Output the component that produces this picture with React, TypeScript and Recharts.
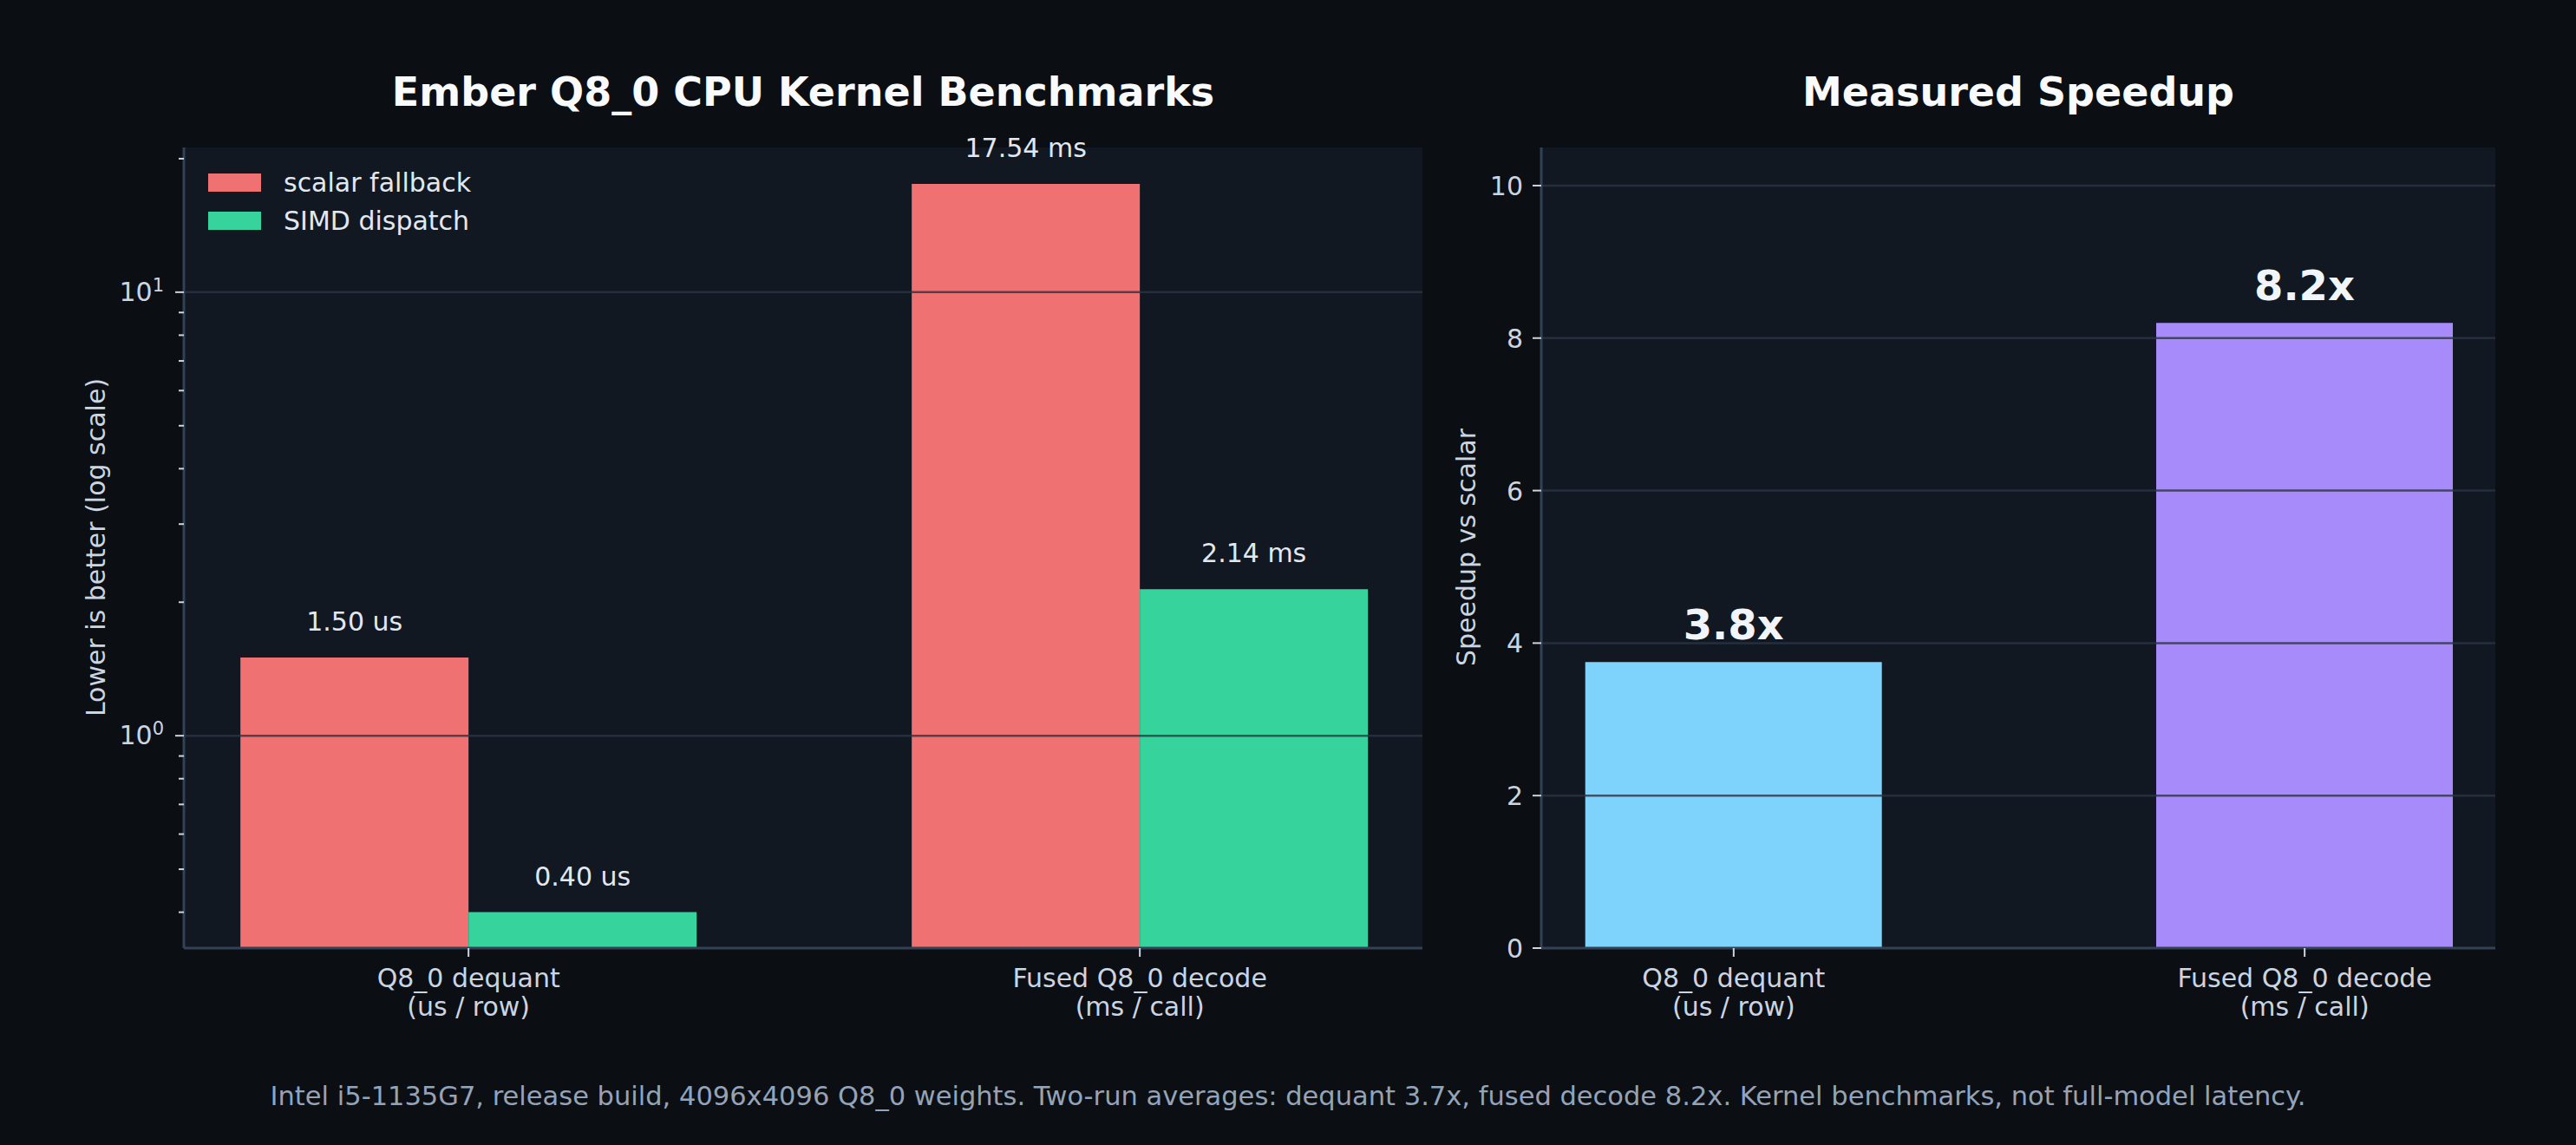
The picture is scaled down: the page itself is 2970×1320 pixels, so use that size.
import { Bar, BarChart, CartesianGrid, Cell, LabelList, ReferenceLine, XAxis, YAxis } from 'recharts';

const categories = ['Q8_0 dequant', 'Fused Q8_0 decode'];
const categoryUnits = ['(us / row)', '(ms / call)'];
const valueUnits = ['us', 'ms'];
const scalarTimes = [1.5, 17.54];
const simdTimes = [0.4, 2.14];
const speedups = [3.75, 8.2];
const speedupColors = ['#7dd3fc', '#a78bfa'];

const logTicks = [0.4, 0.5, 0.6, 0.7, 0.8, 0.9, 1, 2, 3, 4, 5, 6, 7, 8, 9, 10, 20];
const logMajors = [1, 10];
const speedupTicks = [0, 2, 4, 6, 8, 10];
const speedupGrid = [2, 4, 6, 8, 10];

const FONT = '"DejaVu Sans", sans-serif';
const PAGE_BG = '#0b0e13';
const PLOT_BG = '#111822';
const SPINE = '#334155';
const GRID = '#2b3545';
const TICK = '#cbd5e1';
const LABEL = '#e2e8f0';

const timingData = categories.map((name, i) => ({
  pos: i,
  name,
  scalar: scalarTimes[i],
  simd: simdTimes[i],
}));

const speedupData = categories.map((name, i) => ({ pos: i, name, speedup: speedups[i] }));

function LogTick({ x, y, payload }: any) {
  const v = payload.value as number;
  const major = logMajors.includes(v);
  return (
    <g>
      <line x1={x - (major ? 10 : 6)} x2={x} y1={y} y2={y} stroke={TICK} strokeWidth={2} />
      {major && (
        <text x={x - 23} y={y + 10} textAnchor="end" fill={TICK} fontSize={30} fontFamily={FONT}>
          10
          <tspan dy={-11} fontSize={21}>
            {Math.round(Math.log10(v))}
          </tspan>
        </text>
      )}
    </g>
  );
}

function LinearTick({ x, y, payload }: any) {
  return (
    <g>
      <line x1={x - 10} x2={x} y1={y} y2={y} stroke={TICK} strokeWidth={2} />
      <text x={x - 21} y={y + 11} textAnchor="end" fill={TICK} fontSize={30} fontFamily={FONT}>
        {payload.value}
      </text>
    </g>
  );
}

function CategoryTick({ x, y, payload }: any) {
  const i = payload.value as number;
  return (
    <g>
      <line x1={x} x2={x} y1={y} y2={y + 10} stroke={TICK} strokeWidth={2} />
      <text x={x} y={y + 45} textAnchor="middle" fill={TICK} fontSize={30} fontFamily={FONT}>
        <tspan x={x}>{categories[i]}</tspan>
        <tspan x={x} dy={33}>
          {categoryUnits[i]}
        </tspan>
      </text>
    </g>
  );
}

function timeLabel(props: any) {
  const box = props.viewBox ?? props;
  const { x, y, width } = box;
  return (
    <text x={x + width / 2} y={y - 31} textAnchor="middle" fill={LABEL} fontSize={30} fontFamily={FONT}>
      {`${Number(props.value).toFixed(2)} ${valueUnits[props.index]}`}
    </text>
  );
}

function speedupLabel(props: any) {
  const box = props.viewBox ?? props;
  const { x, y, width } = box;
  return (
    <text
      x={x + width / 2}
      y={y - 26}
      textAnchor="middle"
      fill="#f1f5f9"
      fontSize={48}
      fontWeight="bold"
      fontFamily={FONT}
    >
      {`${Number(props.value).toFixed(1)}x`}
    </text>
  );
}

const titleStyle: React.CSSProperties = {
  position: 'absolute',
  top: 106,
  transform: 'translate(-50%, -50%)',
  color: '#f8fafc',
  fontSize: 46,
  fontWeight: 'bold',
  whiteSpace: 'nowrap',
};

const yLabelStyle: React.CSSProperties = {
  position: 'absolute',
  top: 631,
  transform: 'translate(-50%, -50%) rotate(-90deg)',
  color: TICK,
  fontSize: 30,
  whiteSpace: 'nowrap',
};

export default function App() {
  return (
    <div
      style={{
        position: 'fixed',
        left: 0,
        top: 0,
        width: 2970,
        height: 1320,
        background: PAGE_BG,
        fontFamily: FONT,
        overflow: 'hidden',
      }}
    >
      <div style={{ position: 'absolute', left: 0, top: 0 }}>
        <BarChart
          width={1650}
          height={1320}
          data={timingData}
          margin={{ top: 170, right: 10, bottom: 127, left: 32 }}
          barGap={0}
        >
          <CartesianGrid fill={PLOT_BG} fillOpacity={1} horizontal={false} vertical={false} />
          <XAxis
            dataKey="pos"
            type="number"
            domain={[-0.424, 1.421]}
            allowDataOverflow
            ticks={[0, 1]}
            height={100}
            tickSize={0}
            tickMargin={0}
            tick={<CategoryTick />}
            axisLine={{ stroke: SPINE, strokeWidth: 3 }}
          />
          <YAxis
            type="number"
            scale="log"
            domain={[0.332, 21.2]}
            allowDataOverflow
            ticks={logTicks}
            interval={0}
            width={180}
            tickSize={0}
            tickMargin={0}
            tick={<LogTick />}
            axisLine={{ stroke: SPINE, strokeWidth: 3 }}
          />
          <Bar dataKey="scalar" name="scalar fallback" fill="#ef7171" barSize={263} isAnimationActive={false}>
            <LabelList dataKey="scalar" content={timeLabel} />
          </Bar>
          <Bar dataKey="simd" name="SIMD dispatch" fill="#36d49c" barSize={263} isAnimationActive={false}>
            <LabelList dataKey="simd" content={timeLabel} />
          </Bar>
          {logMajors.map((v) => (
            <ReferenceLine key={v} y={v} stroke={GRID} strokeOpacity={0.8} strokeWidth={2.5} />
          ))}
        </BarChart>
      </div>

      <div style={{ position: 'absolute', left: 1650, top: 0 }}>
        <BarChart
          width={1240}
          height={1320}
          data={speedupData}
          margin={{ top: 170, right: 13, bottom: 127, left: 27 }}
        >
          <CartesianGrid fill={PLOT_BG} fillOpacity={1} horizontal={false} vertical={false} />
          <XAxis
            dataKey="pos"
            type="number"
            domain={[-0.337, 1.334]}
            allowDataOverflow
            ticks={[0, 1]}
            height={100}
            tickSize={0}
            tickMargin={0}
            tick={<CategoryTick />}
            axisLine={{ stroke: SPINE, strokeWidth: 3 }}
          />
          <YAxis
            type="number"
            domain={[0, 10.5]}
            allowDataOverflow
            ticks={speedupTicks}
            interval={0}
            width={100}
            tickSize={0}
            tickMargin={0}
            tick={<LinearTick />}
            axisLine={{ stroke: SPINE, strokeWidth: 3 }}
          />
          <Bar dataKey="speedup" barSize={342} isAnimationActive={false}>
            {speedupData.map((d, i) => (
              <Cell key={d.name} fill={speedupColors[i]} />
            ))}
            <LabelList dataKey="speedup" content={speedupLabel} />
          </Bar>
          {speedupGrid.map((v) => (
            <ReferenceLine key={v} y={v} stroke={GRID} strokeOpacity={0.8} strokeWidth={2.5} />
          ))}
        </BarChart>
      </div>

      {/* legend for the timing panel */}
      <div style={{ position: 'absolute', left: 240, top: 188, color: LABEL, fontSize: 30 }}>
        {[
          ['scalar fallback', '#ef7171'],
          ['SIMD dispatch', '#36d49c'],
        ].map(([name, color]) => (
          <div key={name} style={{ display: 'flex', alignItems: 'center', height: 44 }}>
            <div style={{ width: 61, height: 21, background: color, marginRight: 26 }} />
            <span>{name}</span>
          </div>
        ))}
      </div>

      <div style={{ ...titleStyle, left: 926 }}>Ember Q8_0 CPU Kernel Benchmarks</div>
      <div style={{ ...titleStyle, left: 2327 }}>Measured Speedup</div>
      <div style={{ ...yLabelStyle, left: 110 }}>Lower is better (log scale)</div>
      <div style={{ ...yLabelStyle, left: 1690 }}>Speedup vs scalar</div>

      <div
        style={{
          position: 'absolute',
          left: 1485,
          top: 1263,
          transform: 'translate(-50%, -50%)',
          color: '#94a3b8',
          fontSize: 30.5,
          whiteSpace: 'nowrap',
        }}
      >
        Intel i5-1135G7, release build, 4096x4096 Q8_0 weights. Two-run averages: dequant 3.7x, fused decode
        8.2x. Kernel benchmarks, not full-model latency.
      </div>
    </div>
  );
}
